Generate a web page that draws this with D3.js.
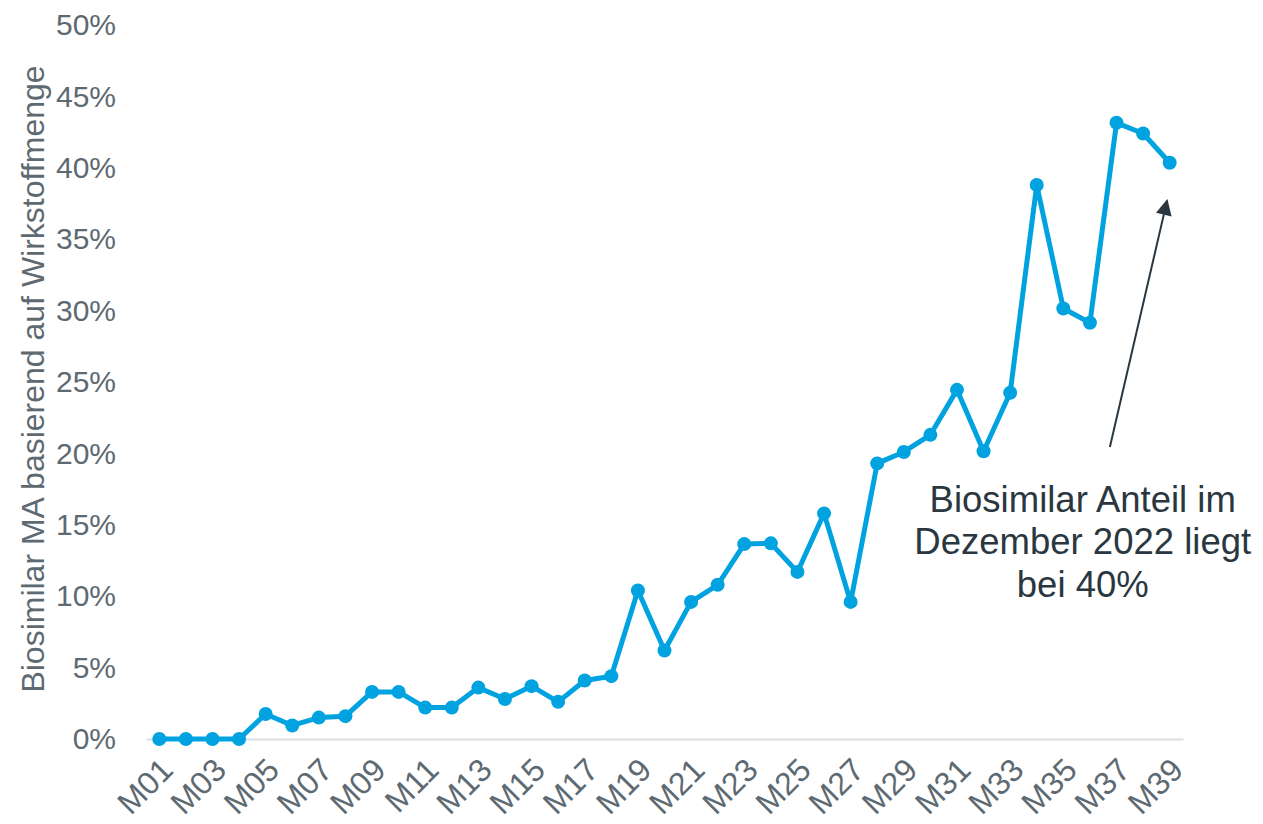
<!DOCTYPE html>
<html>
<head>
<meta charset="utf-8">
<script src="https://cdn.jsdelivr.net/npm/d3@7"></script>
<style>
  html, body { margin: 0; padding: 0; background: #fff; }
  svg text { font-family: "Liberation Sans", Arial, sans-serif; }
</style>
</head>
<body>
<div id="chart"></div>
<script>
// monthly categories
const months = ["M01","M02","M03","M04","M05","M06","M07","M08","M09","M10",
  "M11","M12","M13","M14","M15","M16","M17","M18","M19","M20",
  "M21","M22","M23","M24","M25","M26","M27","M28","M29","M30",
  "M31","M32","M33","M34","M35","M36","M37","M38","M39"];

// biosimilar share (%)
const share = [0, 0, 0, 0, 1.75, 0.95, 1.5, 1.6, 3.3, 3.3,
  2.2, 2.2, 3.6, 2.8, 3.7, 2.6, 4.1, 4.4, 10.4, 6.2,
  9.6, 10.8, 13.65, 13.7, 11.7, 15.8, 9.6, 19.3, 20.1, 21.3,
  24.45, 20.15, 24.25, 38.8, 30.15, 29.15, 43.15, 42.4, 40.35];

const xTickLabels = ["M01","M03","M05","M07","M09","M11","M13","M15","M17","M19",
  "M21","M23","M25","M27","M29","M31","M33","M35","M37","M39"];
const yTicks = [0, 0.05, 0.10, 0.15, 0.20, 0.25, 0.30, 0.35, 0.40, 0.45, 0.50];

const yTitle = "Biosimilar MA basierend auf Wirkstoffmenge";
const noteLines = ["Biosimilar Anteil im", "Dezember 2022 liegt", "bei 40%"];

// arrow / note anchors in data space (month index, share)
const arrowFrom = [35.75, 0.2045];
const arrowTo = [37.9, 0.377];
const noteAt = [34.73, 0.159];

const W = 1263, H = 824;
const margin = { top: 25, right: 80, bottom: 85, left: 146 };

const svg = d3.select("#chart").append("svg")
  .attr("width", W)
  .attr("height", H);

const x = d3.scalePoint()
  .domain(months)
  .range([margin.left, W - margin.right])
  .padding(0.5);

const xi = d3.scaleLinear()
  .domain([0, months.length - 1])
  .range([x(months[0]), x(months[months.length - 1])]);

const y = d3.scaleLinear()
  .domain([0, 0.5])
  .range([H - margin.bottom, margin.top]);

// y axis
const yAxis = svg.append("g")
  .attr("transform", "translate(" + margin.left + ",0)")
  .call(d3.axisLeft(y).tickValues(yTicks).tickFormat(d3.format(".0%")).tickSize(0).tickPadding(30));
yAxis.select(".domain").remove();
yAxis.selectAll("text")
  .style("font-size", "30px")
  .attr("fill", "#5e6a72");

// x axis
const xAxis = svg.append("g")
  .attr("transform", "translate(0," + (H - margin.bottom) + ")")
  .call(d3.axisBottom(x).tickValues(xTickLabels).tickSize(0));
xAxis.select(".domain")
  .attr("stroke", "#d9dee2")
  .attr("stroke-width", 2);
xAxis.selectAll("text")
  .style("font-size", "32px")
  .attr("fill", "#5e6a72")
  .attr("text-anchor", "end")
  .attr("dy", null)
  .attr("y", 0)
  .attr("transform", "translate(15,33) rotate(-45)");

// y axis title
svg.append("text")
  .attr("transform", "translate(44,379) rotate(-90)")
  .attr("text-anchor", "middle")
  .style("font-size", "32px")
  .attr("fill", "#5e6a72")
  .text(yTitle);

// line
const line = d3.line()
  .x((d, i) => x(months[i]))
  .y(d => y(d / 100));

svg.append("path")
  .datum(share)
  .attr("fill", "none")
  .attr("stroke", "#00a3e0")
  .attr("stroke-width", 5)
  .attr("stroke-linejoin", "round")
  .attr("d", line);

svg.append("g")
  .selectAll("circle")
  .data(share)
  .enter()
  .append("circle")
    .attr("cx", (d, i) => x(months[i]))
    .attr("cy", d => y(d / 100))
    .attr("r", 7)
    .attr("fill", "#00a3e0");

// arrow
svg.append("defs").append("marker")
  .attr("id", "head")
  .attr("viewBox", "0 0 10 10")
  .attr("refX", 9)
  .attr("refY", 5)
  .attr("markerWidth", 9)
  .attr("markerHeight", 8)
  .attr("markerUnits", "strokeWidth")
  .attr("orient", "auto")
  .append("path")
    .attr("d", "M0,0 L10,5 L0,10 Z")
    .attr("fill", "#2a3740");

svg.append("line")
  .attr("x1", xi(arrowFrom[0]))
  .attr("y1", y(arrowFrom[1]))
  .attr("x2", xi(arrowTo[0]))
  .attr("y2", y(arrowTo[1]))
  .attr("stroke", "#2a3740")
  .attr("stroke-width", 2)
  .attr("marker-end", "url(#head)");

// note
svg.append("text")
  .attr("x", xi(noteAt[0]))
  .attr("y", y(noteAt[1]))
  .attr("text-anchor", "middle")
  .style("font-size", "36.5px")
  .attr("fill", "#2a3740")
  .selectAll("tspan")
  .data(noteLines)
  .enter()
  .append("tspan")
    .attr("x", xi(noteAt[0]))
    .attr("dy", (d, i) => i === 0 ? 0 : 42.5)
    .text(d => d);
</script>
</body>
</html>
